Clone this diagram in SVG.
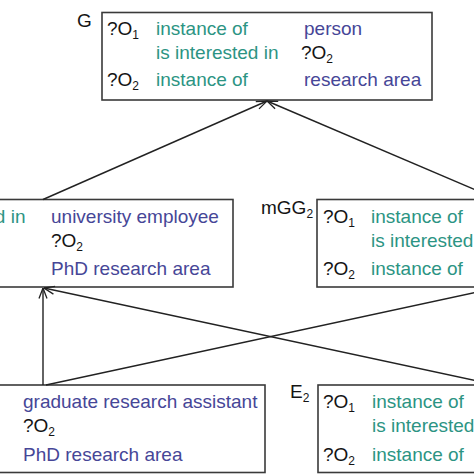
<svg xmlns="http://www.w3.org/2000/svg" width="474" height="474" viewBox="0 0 474 474">
<style>
text{font-family:"Liberation Sans",Arial,Helvetica,sans-serif;font-size:19px;}
.k{fill:#141414;}
.r{fill:#2c9483;}
.v{fill:#464697;}
.sub{font-size:12px;}
.box{fill:#fff;stroke:#3a3a3a;stroke-width:1.6;}
.c{fill:none;stroke:#222;stroke-width:1.4;}
</style>
<defs>
<marker id="arr" viewBox="0 0 12 10" refX="11.5" refY="5" markerWidth="12" markerHeight="10" markerUnits="userSpaceOnUse" orient="auto">
<path d="M1,1 L11.5,5 L1,9" fill="none" stroke="#222" stroke-width="1.3"/>
</marker>
</defs>

<g id="node-G">
<rect class="box" x="102" y="12.5" width="330" height="87.5"/>
<text class="k" x="77" y="27">G</text>
<text class="k" x="107" y="35">?O<tspan class="sub" dy="4">1</tspan></text>
<text class="r" x="156" y="35">instance of</text>
<text class="v" x="304" y="35">person</text>
<text class="r" x="156" y="59">is interested in</text>
<text class="k" x="301" y="59">?O<tspan class="sub" dy="4">2</tspan></text>
<text class="k" x="107" y="86">?O<tspan class="sub" dy="4">2</tspan></text>
<text class="r" x="156" y="86">instance of</text>
<text class="v" x="304" y="86">research area</text>
</g>

<g id="node-left-middle">
<rect class="box" x="-151" y="199.5" width="384" height="87.5"/>
<text class="r" x="-97" y="223">is interested in</text>
<text class="v" x="51" y="223">university employee</text>
<text class="k" x="51" y="247">?O<tspan class="sub" dy="4">2</tspan></text>
<text class="v" x="51" y="275">PhD research area</text>
</g>

<g id="node-mGG2">
<rect class="box" x="317" y="199.5" width="330" height="87.5"/>
<text class="k" x="261" y="214">mGG<tspan class="sub" dy="4">2</tspan></text>
<text class="k" x="323" y="223">?O<tspan class="sub" dy="4">1</tspan></text>
<text class="r" x="371" y="223">instance of</text>
<text class="r" x="371" y="247">is interested in</text>
<text class="k" x="323" y="275">?O<tspan class="sub" dy="4">2</tspan></text>
<text class="r" x="371" y="275">instance of</text>
</g>

<g id="node-left-bottom">
<rect class="box" x="-180" y="385" width="445" height="87.5"/>
<text class="v" x="23" y="408">graduate research assistant</text>
<text class="k" x="23" y="432">?O<tspan class="sub" dy="4">2</tspan></text>
<text class="v" x="23" y="461">PhD research area</text>
</g>

<g id="node-E2">
<rect class="box" x="318" y="385" width="330" height="87.5"/>
<text class="k" x="290" y="398">E<tspan class="sub" dy="4">2</tspan></text>
<text class="k" x="323" y="408">?O<tspan class="sub" dy="4">1</tspan></text>
<text class="r" x="372" y="408">instance of</text>
<text class="r" x="372" y="432">is interested in</text>
<text class="k" x="323" y="461">?O<tspan class="sub" dy="4">2</tspan></text>
<text class="r" x="372" y="461">instance of</text>
</g>

<g id="connectors">
<line class="c" x1="43" y1="199.5" x2="267" y2="101" marker-end="url(#arr)"/>
<line class="c" x1="498" y1="199.5" x2="267" y2="101" marker-end="url(#arr)"/>
<line class="c" x1="43" y1="385" x2="43" y2="288" marker-end="url(#arr)"/>
<line class="c" x1="46" y1="385" x2="501" y2="287" marker-end="url(#arr)"/>
<line class="c" x1="496" y1="385" x2="44" y2="288" marker-end="url(#arr)"/>
</g>
</svg>
